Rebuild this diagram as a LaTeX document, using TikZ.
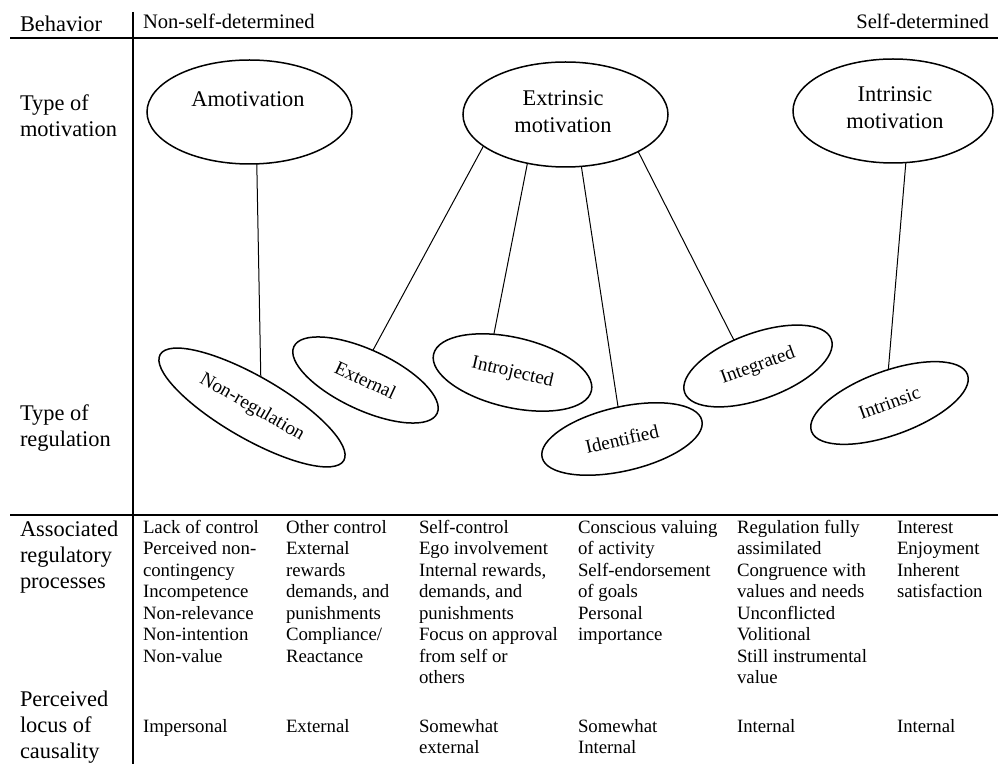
\documentclass[tikz,border=0pt]{standalone}
\usepackage{fontspec}
\setmainfont{Liberation Serif}
\usetikzlibrary{shapes.geometric}
\begin{document}
\begin{tikzpicture}[x=0.5pt,y=-0.5pt,
  every node/.style={inner sep=0pt, outer sep=0pt},
  rowlab/.style={anchor=north west, align=left, font=\fontsize{11.2}{13}\selectfont},
  headlab/.style={font=\fontsize{10.3}{12}\selectfont},
  body/.style={anchor=north west, align=left, font=\fontsize{9.4}{10.75}\selectfont},
  topell/.style={ellipse, draw, line width=0.75pt},
  topelltext/.style={align=center, font=\fontsize{11.2}{13.5}\selectfont},
  regell/.style={ellipse, draw, line width=0.75pt, font=\fontsize{9.6}{11}\selectfont},
  conn/.style={line width=0.5pt},
  rule/.style={line width=0.8pt}
]
\useasboundingbox (0,0) rectangle (998,764);

% table rules
\draw[rule] (10,38) -- (998,38);
\draw[rule] (10,515) -- (998,515);
\draw[rule] (133,12) -- (133,764);

% header row
\node[anchor=base west, font=\fontsize{11.2}{13}\selectfont] (behav) at (20,32) {Behavior};
\node[headlab, anchor=base west] (nonsd) at (143,29) {Non-self-determined};
\node[headlab, anchor=base east] (sd) at (989,29) {Self-determined};

% row labels
\node[rowlab] (ltm) at (20,92.8) {\strut Type of\\motivation};
\node[rowlab] (ltr) at (20,402.8) {\strut Type of\\regulation};
\node[rowlab] (larp) at (20,518.8) {\strut Associated\\regulatory\\processes};
\node[rowlab] (lplc) at (20,688.8) {\strut Perceived\\locus of\\causality};

% top ellipses
\node[topell, minimum width=102.5pt, minimum height=52pt] (amot) at (249.5,112) {};
\node[topell, minimum width=102.5pt, minimum height=52.5pt] (extr) at (565.5,114.5) {};
\node[topell, minimum width=100pt, minimum height=52pt] (intr) at (893,111) {};
\node[topelltext, anchor=base] (amottxt) at (248,107) {Amotivation};
\node[topelltext, anchor=north] (extrtxt) at (563,87) {\strut Extrinsic\\motivation};
\node[topelltext, anchor=north] (intrtxt) at (895,83) {\strut Intrinsic\\motivation};

% regulation ellipses
\node[regell, rotate=-30, minimum width=106pt, minimum height=31pt] (nonreg) at (252,407.5) {Non-regulation};
\node[regell, rotate=-25, minimum width=79pt, minimum height=30pt] (extreg) at (365.5,380) {External};
\node[regell, rotate=-13, minimum width=81pt, minimum height=35pt] (introj) at (512.5,372.5) {Introjected};
\node[regell, rotate=13, minimum width=82pt, minimum height=32pt] (ident) at (622,439) {Identified};
\node[regell, rotate=20, minimum width=78pt, minimum height=33pt] (integ) at (758,366) {Integrated};
\node[regell, rotate=20, minimum width=83pt, minimum height=32pt] (intreg) at (889.5,403) {Intrinsic};

% connectors
\draw[conn] (amot.-82) -- (nonreg.104);
\draw[conn] (extr.-159) -- (extreg.101);
\draw[conn] (extr.-128) -- (introj.129);
\draw[conn] (extr.-73) -- (ident.84);
\draw[conn] (extr.-27) -- (integ.113);
\draw[conn] (intr.-76) -- (intreg.72);

% associated regulatory processes
\node[body] (p1) at (143,518) {\strut Lack of control\\Perceived non-\\contingency\\Incompetence\\Non-relevance\\Non-intention\\Non-value};
\node[body] (p2) at (286,518) {\strut Other control\\External\\rewards\\demands, and\\punishments\\Compliance/\\Reactance};
\node[body] (p3) at (419,518) {\strut Self-control\\Ego involvement\\Internal rewards,\\demands, and\\punishments\\Focus on approval\\from self or\\others};
\node[body] (p4) at (578,518) {\strut Conscious valuing\\of activity\\Self-endorsement\\of goals\\Personal\\importance};
\node[body] (p5) at (737,518) {\strut Regulation fully\\assimilated\\Congruence with\\values and needs\\Unconflicted\\Volitional\\Still instrumental\\value};
\node[body] (p6) at (897,518) {\strut Interest\\Enjoyment\\Inherent\\satisfaction};

% perceived locus of causality
\node[body] (c1) at (143,717) {\strut Impersonal};
\node[body] (c2) at (286,717) {\strut External};
\node[body] (c3) at (419,717) {\strut Somewhat\\external};
\node[body] (c4) at (578,717) {\strut Somewhat\\Internal};
\node[body] (c5) at (737,717) {\strut Internal};
\node[body] (c6) at (897,717) {\strut Internal};
\end{tikzpicture}
\end{document}
